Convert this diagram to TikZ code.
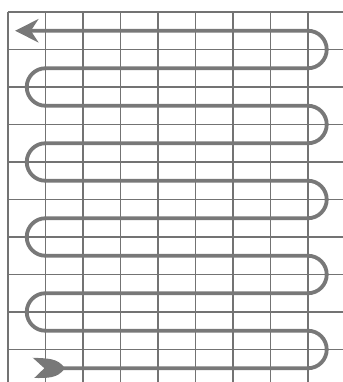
\documentclass[tikz,border=0pt]{standalone}
\usepackage{tikz}
\usetikzlibrary{arrows.meta}
\definecolor{GridGray}{RGB}{115,115,115}
\definecolor{PipeGray}{RGB}{120,120,120}

\begin{document}
\begin{tikzpicture}[x=1cm,y=1cm,>=Stealth,
    gridline/.style={GridGray,line width=1.4pt},
    pipe/.style={PipeGray,line width=2.9pt,line join=round}]
      \useasboundingbox[fill=white] (-0.213,0.32) rectangle (8.933,-9.867);
      \draw[gridline] (0,0) grid (9,-10);
      % serpentine run, bottom to top
      \draw[pipe,-{Stealth[length=0.62cm,width=0.62cm,inset=0.2cm]}] (1.45,-9.5)
        \foreach \r in {9.5,7.5,5.5,3.5} {
          -- (8,-\r) arc[start angle=-90,end angle=90,radius=0.5]
          -- (1,-\r+1) arc[start angle=270,end angle=90,radius=0.5] }
        -- (8,-1.5) arc[start angle=-90,end angle=90,radius=0.5]
        -- (0.19,-0.5);
      % tail feather
      \fill[PipeGray] (0.66,-9.22) .. controls (1.05,-9.24) and (1.32,-9.22) .. (1.52,-9.5)
        .. controls (1.32,-9.78) and (1.05,-9.76) .. (0.7,-9.76) -- (0.97,-9.5) -- cycle;
    \end{tikzpicture}
\end{document}
